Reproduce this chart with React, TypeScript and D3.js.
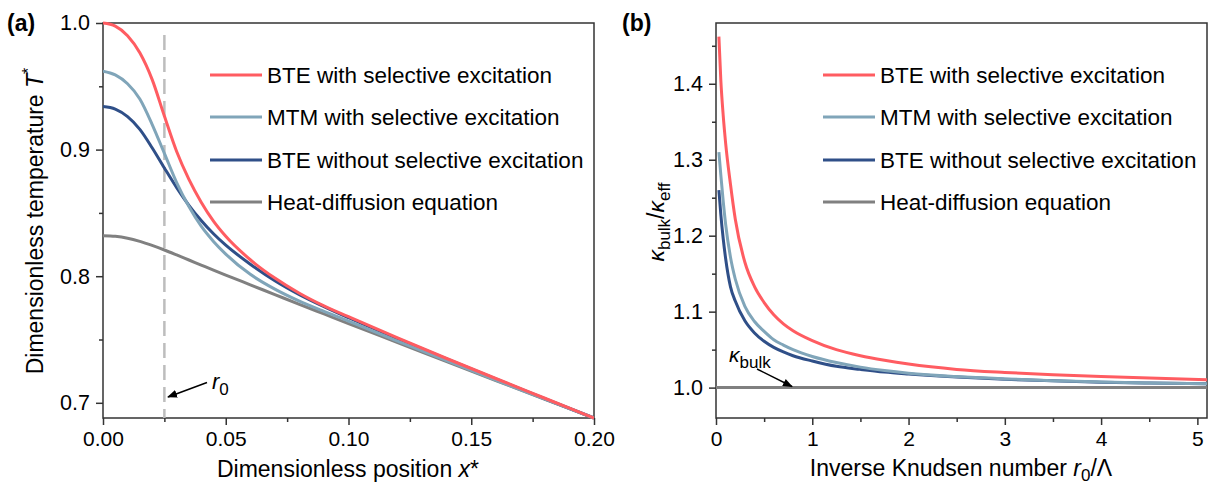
import * as d3 from 'd3';
import { useEffect, useRef } from 'react';

// panel (a): temperature profiles
const posX = [0, 0.005, 0.01, 0.015, 0.02, 0.025, 0.03, 0.035, 0.04, 0.045, 0.05, 0.06, 0.07, 0.08, 0.09, 0.10, 0.12, 0.14, 0.16, 0.18, 0.20];
const tBteSel = [1.000, 0.9975, 0.990, 0.9765, 0.9555, 0.9265, 0.8985, 0.8765, 0.8585, 0.8435, 0.8315, 0.813, 0.7985, 0.7865, 0.7765, 0.768, 0.7512, 0.735, 0.7192, 0.7036, 0.688];
const tMtmSel = [0.962, 0.959, 0.952, 0.940, 0.920, 0.897, 0.874, 0.855, 0.8395, 0.8275, 0.8175, 0.8015, 0.7898, 0.7803, 0.7722, 0.7646, 0.7488, 0.7333, 0.718, 0.7029, 0.688];
const tBteNoSel = [0.934, 0.932, 0.926, 0.916, 0.9015, 0.8855, 0.870, 0.856, 0.844, 0.8335, 0.8245, 0.8095, 0.7965, 0.7855, 0.776, 0.7672, 0.7506, 0.7346, 0.7188, 0.7032, 0.688];
const tDiffusion = [0.832, 0.8315, 0.830, 0.8275, 0.8243, 0.8207, 0.8168, 0.8128, 0.8088, 0.8048, 0.8009, 0.7932, 0.7855, 0.7778, 0.7702, 0.7626, 0.7476, 0.7326, 0.7176, 0.7028, 0.688];
const r0Pos = 0.025;

// panel (b): conductivity ratio vs inverse Knudsen number
const knX = [0.03, 0.05, 0.075, 0.1, 0.15, 0.2, 0.3, 0.4, 0.5, 0.6, 0.7, 0.8, 1.0, 1.25, 1.5, 1.75, 2.0, 2.5, 3.0, 3.5, 4.0, 4.5, 5.1];
const kBteSel = [1.462, 1.405, 1.358, 1.322, 1.268, 1.222, 1.165, 1.133, 1.112, 1.096, 1.084, 1.075, 1.062, 1.050, 1.042, 1.036, 1.031, 1.024, 1.020, 1.017, 1.0145, 1.0125, 1.0105];
const kMtmSel = [1.310, 1.280, 1.245, 1.215, 1.172, 1.143, 1.107, 1.087, 1.074, 1.063, 1.056, 1.050, 1.041, 1.033, 1.027, 1.0225, 1.019, 1.0145, 1.0115, 1.0092, 1.0075, 1.0062, 1.005];
const kBteNoSel = [1.260, 1.228, 1.196, 1.170, 1.133, 1.114, 1.088, 1.072, 1.061, 1.053, 1.047, 1.042, 1.035, 1.028, 1.024, 1.0205, 1.018, 1.014, 1.011, 1.009, 1.007, 1.006, 1.005];
const kDiffX = [0, 5.1];
const kDiff = [1.0, 1.0];

const legendLabels = ['BTE with selective excitation', 'MTM with selective excitation', 'BTE without selective excitation', 'Heat-diffusion equation'];
const colors = ['#ff5c61', '#80a5b9', '#2f4f88', '#808080'];

const ticksAX = [0, 0.05, 0.1, 0.15, 0.2];
const minorAX = [0.025, 0.075, 0.125, 0.175];
const ticksAY = [0.7, 0.8, 0.9, 1.0];
const minorAY = [0.75, 0.85, 0.95];
const ticksBX = [0, 1, 2, 3, 4, 5];
const minorBX = [0.5, 1.5, 2.5, 3.5, 4.5];
const ticksBY = [1.0, 1.1, 1.2, 1.3, 1.4];
const minorBY = [1.05, 1.15, 1.25, 1.35, 1.45];

const FONT = "'Liberation Sans', Arial, sans-serif";

function Chart() {
  const ref = useRef(null);

  useEffect(() => {
    const svg = d3.select(ref.current);
    svg.selectAll('*').remove();

    svg.append('defs').append('marker')
      .attr('id', 'arrow')
      .attr('viewBox', '0 0 10 10')
      .attr('refX', 9)
      .attr('refY', 5)
      .attr('markerWidth', 10)
      .attr('markerHeight', 10)
      .attr('markerUnits', 'userSpaceOnUse')
      .attr('orient', 'auto')
      .append('path')
      .attr('d', 'M0,1 L10,5 L0,9 Z')
      .attr('fill', '#000');

    function panel(x, y, opts) {
      const g = svg.append('g');
      const [x0, x1] = x.range();
      const [y0, y1] = y.range();

      // major + minor ticks, pointing outward
      const xa = g.append('g').attr('transform', `translate(0,${y0})`)
        .call(d3.axisBottom(x).tickValues(opts.xt).tickFormat(opts.xf).tickSize(7).tickSizeOuter(0).tickPadding(6));
      xa.selectAll('text').attr('font-size', 21).attr('font-family', FONT).attr('fill', '#000');
      g.append('g').attr('transform', `translate(0,${y0})`)
        .call(d3.axisBottom(x).tickValues(opts.xm).tickFormat(() => '').tickSize(4).tickSizeOuter(0));
      const ya = g.append('g').attr('transform', `translate(${x0},0)`)
        .call(d3.axisLeft(y).tickValues(opts.yt).tickFormat(d3.format('.1f')).tickSize(7).tickSizeOuter(0).tickPadding(6));
      ya.selectAll('text').attr('font-size', 21.5).attr('font-family', FONT).attr('fill', '#000');
      g.append('g').attr('transform', `translate(${x0},0)`)
        .call(d3.axisLeft(y).tickValues(opts.ym).tickFormat(() => '').tickSize(4).tickSizeOuter(0));
      g.selectAll('.domain').remove();
      g.selectAll('.tick line').attr('stroke', '#333').attr('stroke-width', 1.5);

      g.append('rect')
        .attr('x', x0).attr('y', y1)
        .attr('width', x1 - x0).attr('height', y0 - y1)
        .attr('fill', 'none').attr('stroke', '#333').attr('stroke-width', 1.5);

      const clip = `clip-${opts.id}`;
      svg.append('clipPath').attr('id', clip).append('rect')
        .attr('x', x0).attr('y', y1 - 2).attr('width', x1 - x0).attr('height', y0 - y1 + 4);
      const plot = g.append('g').attr('clip-path', `url(#${clip})`);
      return { g, plot };
    }

    const line = (x, y) => d3.line().x((d) => x(d[0])).y((d) => y(d[1])).curve(d3.curveMonotoneX);

    function legend(g, lx, ys) {
      legendLabels.forEach((lab, i) => {
        g.append('line')
          .attr('x1', lx).attr('x2', lx + 52).attr('y1', ys[i]).attr('y2', ys[i])
          .attr('stroke', colors[i]).attr('stroke-width', 3);
        g.append('text')
          .attr('x', lx + 57).attr('y', ys[i] + 8)
          .attr('font-size', 22.5).attr('font-family', FONT)
          .text(lab);
      });
    }

    // ---------- (a)
    const xA = d3.scaleLinear().domain([0, 0.2]).range([103, 594]);
    const yA = d3.scaleLinear().domain([0.688, 1.0]).range([418, 23]);
    const a = panel(xA, yA, {
      id: 'a', xt: ticksAX, xm: minorAX, yt: ticksAY, ym: minorAY, xf: d3.format('.2f'),
    });

    a.plot.append('line')
      .attr('x1', xA(r0Pos)).attr('x2', xA(r0Pos)).attr('y1', 35).attr('y2', 418)
      .attr('stroke', '#bdbdbd').attr('stroke-width', 2.5).attr('stroke-dasharray', '15,7');

    [tDiffusion, tBteNoSel, tMtmSel, tBteSel].forEach((s, k) => {
      const i = 3 - k;
      a.plot.append('path')
        .datum(posX.map((p, j) => [p, s[j]]))
        .attr('d', line(xA, yA))
        .attr('fill', 'none').attr('stroke', colors[i]).attr('stroke-width', 3);
    });

    legend(a.g, 210, [75, 117, 160, 202]);

    a.g.append('line')
      .attr('x1', 207).attr('y1', 382.5).attr('x2', 168).attr('y2', 397)
      .attr('stroke', '#000').attr('stroke-width', 1.5).attr('marker-end', 'url(#arrow)');
    const r0t = a.g.append('text').attr('x', 212).attr('y', 389).attr('font-size', 22).attr('font-family', FONT);
    r0t.append('tspan').attr('font-style', 'italic').text('r');
    r0t.append('tspan').attr('dy', 6).attr('font-size', 17).text('0');

    a.g.append('text').attr('x', 7).attr('y', 31)
      .attr('font-size', 23).attr('font-weight', 'bold').attr('font-family', FONT).text('(a)');

    const xtA = a.g.append('text').attr('x', 348).attr('y', 477).attr('text-anchor', 'middle')
      .attr('font-size', 23).attr('font-family', FONT);
    xtA.append('tspan').text('Dimensionless position ');
    xtA.append('tspan').attr('font-style', 'italic').text('x');
    xtA.append('tspan').text('*');

    const ytA = a.g.append('text').attr('transform', 'translate(43,221) rotate(-90)').attr('text-anchor', 'middle')
      .attr('font-size', 23).attr('font-family', FONT);
    ytA.append('tspan').text('Dimensionless temperature ');
    ytA.append('tspan').attr('font-style', 'italic').text('T');
    ytA.append('tspan').attr('dy', -9).attr('font-size', 16).text('*');

    // ---------- (b)
    const xB = d3.scaleLinear().domain([0, 5.1]).range([716, 1207]);
    const yB = d3.scaleLinear().domain([0.96, 1.48]).range([418, 23]);
    const b = panel(xB, yB, {
      id: 'b', xt: ticksBX, xm: minorBX, yt: ticksBY, ym: minorBY, xf: d3.format('d'),
    });

    b.plot.append('path')
      .datum(kDiffX.map((p, j) => [p, kDiff[j]]))
      .attr('d', d3.line().x((d) => xB(d[0])).y((d) => yB(d[1])))
      .attr('fill', 'none').attr('stroke', colors[3]).attr('stroke-width', 3);
    [kBteNoSel, kMtmSel, kBteSel].forEach((s, k) => {
      const i = 2 - k;
      b.plot.append('path')
        .datum(knX.map((p, j) => [p, s[j]]))
        .attr('d', line(xB, yB))
        .attr('fill', 'none').attr('stroke', colors[i]).attr('stroke-width', 3);
    });

    legend(b.g, 823, [75, 117, 160, 202]);

    b.g.append('line')
      .attr('x1', 757).attr('y1', 369).attr('x2', 792).attr('y2', 386.5)
      .attr('stroke', '#000').attr('stroke-width', 1.5).attr('marker-end', 'url(#arrow)');
    const kb = b.g.append('text').attr('x', 729).attr('y', 362).attr('font-size', 21).attr('font-family', FONT);
    kb.append('tspan').attr('font-style', 'italic').text('κ');
    kb.append('tspan').attr('dy', 6).attr('font-size', 17).text('bulk');

    b.g.append('text').attr('x', 622).attr('y', 31)
      .attr('font-size', 23).attr('font-weight', 'bold').attr('font-family', FONT).text('(b)');

    const xtB = b.g.append('text').attr('x', 961).attr('y', 476).attr('text-anchor', 'middle')
      .attr('font-size', 23).attr('font-family', FONT);
    xtB.append('tspan').text('Inverse Knudsen number ');
    xtB.append('tspan').attr('font-style', 'italic').text('r');
    xtB.append('tspan').attr('dy', 5).attr('font-size', 17).text('0');
    xtB.append('tspan').attr('dy', -5).text('/Λ');

    const ytB = b.g.append('text').attr('transform', 'translate(664,222) rotate(-90)').attr('text-anchor', 'middle')
      .attr('font-size', 23).attr('font-family', FONT);
    ytB.append('tspan').attr('font-style', 'italic').text('κ');
    ytB.append('tspan').attr('dy', 6).attr('font-size', 17).text('bulk');
    ytB.append('tspan').attr('dy', -6).text('/');
    ytB.append('tspan').attr('font-style', 'italic').text('κ');
    ytB.append('tspan').attr('dy', 6).attr('font-size', 17).text('eff');
  }, []);

  return <svg ref={ref} width={1211} height={485} style={{ display: 'block' }} />;
}

export default function App() {
  return (
    <div style={{ position: 'absolute', left: 0, top: 0, background: '#fff' }}>
      <Chart />
    </div>
  );
}
